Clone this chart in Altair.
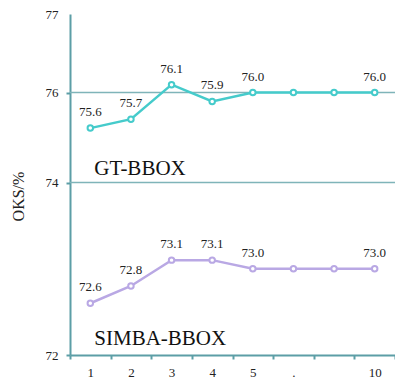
import altair as alt
import pandas as pd

# ---- data ----
x_labels = ["1", "2", "3", "4", "5", ".", " ", "10"]
gt_values = [75.6, 75.7, 76.1, 75.9, 76.0, 76.0, 76.0, 76.0]
simba_values = [72.6, 72.8, 73.1, 73.1, 73.0, 73.0, 73.0, 73.0]
gt_text = ["75.6", "75.7", "76.1", "75.9", "76.0", "", "", "76.0"]
simba_text = ["72.6", "72.8", "73.1", "73.1", "73.0", "", "", "73.0"]
series_names = ["GT-BBOX", "SIMBA-BBOX"]
series_colors = ["#45cbcb", "#b9a8e4"]
name_y = [74.25, 72.12]
y_ticks = [72, 74, 76, 77]
grid_values = [74, 76]

# broken (piecewise) y axis as in the reference
y_domain = [72, 74, 75.5, 76, 77]
y_range = [341, 168.5, 123, 78.5, 0]

AXIS_COLOR = "#5c9ea6"
GRID_COLOR = "#7fb4b9"
FONT = "Liberation Serif"

df = pd.DataFrame({
    "step": x_labels * 2,
    "oks": gt_values + simba_values,
    "label": gt_text + simba_text,
    "series": [series_names[0]] * len(x_labels) + [series_names[1]] * len(x_labels),
})
names_df = pd.DataFrame({"step": [x_labels[0]] * 2, "oks": name_y, "name": series_names})
grid_df = pd.DataFrame({"oks": grid_values})

x_axis = alt.Axis(
    title=None, tickBand="extent", domainColor=AXIS_COLOR, domainWidth=2,
    tickColor=AXIS_COLOR, tickWidth=2, tickSize=4, labelAngle=0,
    labelFont=FONT, labelFontSize=13, labelColor="#222", labelPadding=7,
    labelBaseline="top", grid=False,
)
y_axis = alt.Axis(
    title="OKS/%", values=y_ticks, grid=False,
    domainColor=AXIS_COLOR, domainWidth=2,
    tickColor={"condition": {"test": "datum.value == 77", "value": "transparent"}, "value": AXIS_COLOR},
    tickWidth=2, tickSize=4,
    labelFont=FONT, labelFontSize=13, labelColor="#222", labelPadding=8,
    titleFont=FONT, titleFontSize=16, titleFontWeight="normal", titleColor="#222",
    titleX=-52, titleY=182, titleBaseline="middle",
)

x_scale = alt.Scale(type="band", domain=x_labels, paddingInner=0, paddingOuter=0)
y_scale = alt.Scale(domain=y_domain, range=y_range, zero=False, nice=False)

x_enc = alt.X("step:N", scale=x_scale, axis=x_axis, bandPosition=0.5)
y_enc = alt.Y("oks:Q", scale=y_scale, axis=y_axis)
color_enc = alt.Color("series:N", scale=alt.Scale(domain=series_names, range=series_colors), legend=None)

grid = alt.Chart(grid_df).mark_rule(color=GRID_COLOR, strokeWidth=1.5).encode(y=y_enc)

lines = alt.Chart(df).mark_line(strokeWidth=2.5).encode(
    x=x_enc, y=y_enc, color=color_enc, detail="series:N"
)
points = alt.Chart(df).mark_point(filled=True, fill="white", strokeWidth=2, size=30, opacity=1).encode(
    x=x_enc, y=y_enc,
    stroke=alt.Stroke("series:N", scale=alt.Scale(domain=series_names, range=series_colors), legend=None),
)
labels = alt.Chart(df).mark_text(font=FONT, fontSize=13, color="#222", baseline="middle", dy=-16).encode(
    x=x_enc, y=y_enc, text="label:N"
)
names = alt.Chart(names_df).mark_text(font=FONT, fontSize=21, color="#111", align="left",
                                     baseline="alphabetic", dx=4).encode(
    x=x_enc, y=y_enc, text="name:N"
)

chart = alt.layer(grid, lines, points, labels, names).properties(
    width=325, height=341,
    padding={"left": 62, "top": 6, "right": 0, "bottom": 24},
    autosize=alt.AutoSizeParams(type="none"),
    background="white",
).configure_view(stroke=None)

chart.save("out.html", embed_options={"renderer": "svg", "actions": False})
